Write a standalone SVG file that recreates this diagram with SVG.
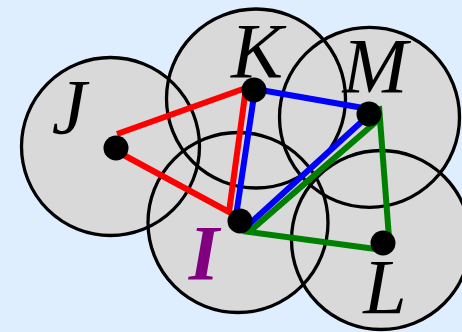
<svg xmlns="http://www.w3.org/2000/svg" width="462" height="332" viewBox="0 0 462 332">
  <style>
    .fill { fill: #d9d9d9; stroke: none; }
    .ring { fill: none; stroke: #000; stroke-width: 3.3; }
    .edge { fill: none; stroke-width: 6; stroke-linejoin: miter; stroke-linecap: butt; }
    .red { stroke: #ff0000; }
    .blue { stroke: #0000ff; }
    .green { stroke: #008000; }
    .dot { fill: #000; }
    .lbl { font-family: "Liberation Serif", "Times New Roman", serif; font-style: italic; font-size: 78px; fill: #000; text-anchor: middle; }
    .lblI { font-weight: bold; fill: #800080; }
  </style>
  <rect x="0" y="0" width="462" height="332" fill="#dfeeff"/>
  <g id="disks">
    <circle class="fill" cx="110.5" cy="146.5" r="89"/>
    <circle class="fill" cx="256" cy="98.5" r="89.5"/>
    <circle class="fill" cx="369.5" cy="117.3" r="90"/>
    <circle class="fill" cx="238" cy="222.5" r="90"/>
    <circle class="fill" cx="381" cy="240" r="89.5"/>
  </g>
  <g id="rings">
    <circle class="ring" cx="110.5" cy="146.5" r="89"/>
    <circle class="ring" cx="256" cy="98.5" r="89.5"/>
    <circle class="ring" cx="369.5" cy="117.3" r="90"/>
    <circle class="ring" cx="238" cy="222.5" r="90"/>
    <circle class="ring" cx="381" cy="240" r="89.5"/>
  </g>
  <g id="connectors">
    <polyline class="edge red" points="117,134 246,88 229,212 118,152"/>
    <polyline class="edge blue" points="369,109 255,89 236,216"/>
    <line class="edge blue" x1="369" y1="115" x2="245" y2="228"/>
    <polyline class="edge green" points="377,121 249,232 383,250"/>
    <line class="edge green" x1="379" y1="106" x2="389" y2="238"/>
  </g>
  <g id="node-J">
    <circle class="dot" cx="116" cy="148" r="12.5"/>
    <text class="lbl" x="69" y="133">J</text>
  </g>
  <g id="node-K">
    <circle class="dot" cx="254" cy="90" r="12.5"/>
    <text class="lbl" x="257" y="77">K</text>
  </g>
  <g id="node-M">
    <circle class="dot" cx="369" cy="114" r="12.5"/>
    <text class="lbl" x="375" y="92">M</text>
  </g>
  <g id="node-I">
    <circle class="dot" cx="240" cy="221" r="12.5"/>
    <text class="lbl lblI" x="204" y="279">I</text>
  </g>
  <g id="node-L">
    <circle class="dot" cx="383" cy="243" r="12.5"/>
    <text class="lbl" x="385" y="313">L</text>
  </g>
</svg>
